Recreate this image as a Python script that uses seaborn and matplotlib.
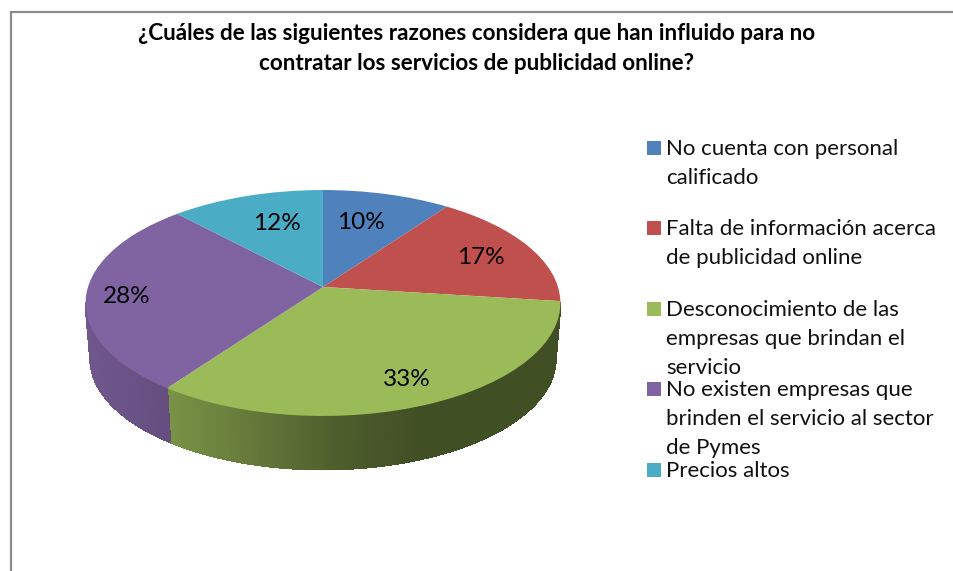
import numpy as np
import matplotlib
matplotlib.use("Agg")
import matplotlib.pyplot as plt
from matplotlib.collections import PolyCollection, LineCollection
from matplotlib.patches import Rectangle
from matplotlib.transforms import Transform
from matplotlib.colors import to_rgb
import seaborn as sns

title_lines = ["¿Cuáles de las siguientes razones considera que han influido para no",
               "contratar los servicios de publicidad online?"]
categories = ["No cuenta con personal\ncalificado",
              "Falta de información acerca\nde publicidad online",
              "Desconocimiento de las\nempresas que brindan el\nservicio",
              "No existen empresas que\nbrinden el servicio al sector\nde Pymes",
              "Precios altos"]
values = [10, 17, 33, 28, 12]
colors = ["#4f81bd", "#c0504d", "#9bbb59", "#8064a2", "#4bacc6"]
label_xy = [(361, 222.5), (481, 257.5), (407, 379.5), (127, 296.5), (277, 223.5)]
legend_y = [149, 229, 310, 390, 471]

sns.set_theme(style="white")
plt.rcParams["font.family"] = ["Lato", "DejaVu Sans"]
palette = sns.color_palette(colors)

CX, CY, A, B, K = 323.0, 287.0, 235.0, 110.7, 0.1416


def project(u, v, cy=CY, scale=1.0):
    d = 1 + K * v
    return CX + scale * A * u / d, cy - scale * B * v / d


class Perspective(Transform):
    input_dims = output_dims = 2
    has_inverse = False

    def transform_non_affine(self, values):
        values = np.asarray(values, float)
        x, y = project(values[:, 0], values[:, 1])
        return np.column_stack([x, y])


fig = plt.figure(figsize=(9.54, 5.71), dpi=100)
ax = fig.add_axes([0, 0, 1, 1])
wedges, _, autotexts = ax.pie(values, colors=palette, startangle=90, counterclock=False,
                              autopct="%.0f%%", textprops={"fontsize": 17.5, "color": "black"},
                              wedgeprops={"linewidth": 0})
ax.set_aspect("auto")
ax.set_xlim(0, 954)
ax.set_ylim(571, 0)
ax.axis("off")

persp = Perspective()
for w in wedges:
    w.set_transform(persp + ax.transData)
    w.set_zorder(3)
for t, (x, y) in zip(autotexts, label_xy):
    t.set_position((x, y))
    t.set_zorder(5)

# side wall of the disc, shaded by horizontal position; only the part in front of
# the silhouette tangents is visible
tangent = np.degrees(np.arcsin(K))
edges = np.concatenate([[0], np.cumsum(values)]) / sum(values) * 360
polys, fills, rim = [], [], []
for i, col in enumerate(palette):
    lo, hi = max(edges[i], 90 + tangent), min(edges[i + 1], 270 - tangent)
    if hi <= lo:
        continue
    th = np.radians(np.linspace(lo, hi, int((hi - lo) * 2) + 2))
    u, v = np.sin(th), np.cos(th)
    xt, yt = project(u, v)
    xb, yb = project(u, v, cy=343.0, scale=0.98)
    for j in range(len(th) - 1):
        polys.append([(xt[j], yt[j]), (xt[j + 1], yt[j + 1]), (xb[j + 1], yb[j + 1]), (xb[j], yb[j])])
        f = np.interp(xt[j], [86, 170, 340, 420, 561], [0.87, 0.78, 0.50, 0.42, 0.42])
        fills.append(tuple(np.array(to_rgb(col)) * f))
        rim.append([(xb[j], yb[j]), (xb[j + 1], yb[j + 1])])
ax.add_collection(PolyCollection(polys, facecolors=fills, edgecolors=fills, linewidths=0.8,
                                 antialiaseds=False, zorder=2))
ax.add_collection(LineCollection(rim, colors=fills, linewidths=1.0, capstyle="round", zorder=2))

# frame
ax.plot([11, 11, 954], [571, 12, 12], color="#8c8c8c", lw=1.6, solid_joinstyle="miter", zorder=1)

# title
for line, y in zip(title_lines, [34, 63]):
    ax.text(477, y, line, ha="center", va="center", fontsize=16.2, fontweight="bold", color="black")

# legend
for name, y, col in zip(categories, legend_y, palette):
    ax.add_patch(Rectangle((647, y - 8), 14, 14, facecolor=col, edgecolor="none"))
    for k, line in enumerate(name.split("\n")):
        ax.text(666.5, y + k * 29, line, ha="left", va="center", fontsize=16, color="#111111")

fig.savefig("out.png", dpi=100, facecolor="white")
